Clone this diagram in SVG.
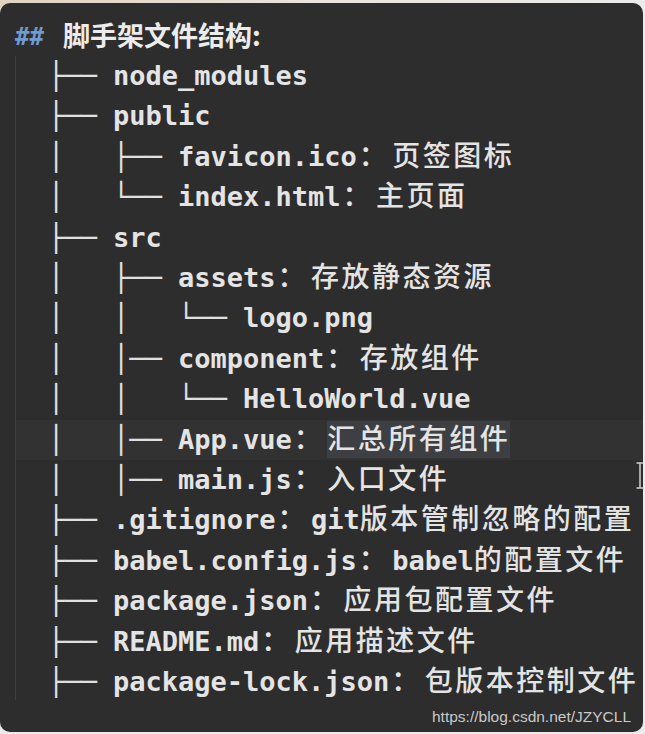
<svg xmlns="http://www.w3.org/2000/svg" width="645" height="734" viewBox="0 0 645 734">
<style>
.t{font-family:"DejaVu Sans Mono","Liberation Mono","Noto Sans CJK SC",monospace;font-size:27px;font-weight:bold;fill:#e4e4e4;}
.c{font-family:"DejaVu Sans Mono","Liberation Mono",monospace;font-size:27px;fill:#e0e0e0;}
.cjk{font-family:"Noto Sans CJK SC","DejaVu Sans",sans-serif;font-size:28px;font-weight:500;letter-spacing:2.5px;}
.title{font-family:"Noto Sans CJK SC",sans-serif;font-size:27px;font-weight:bold;fill:#ececec;}
.hash{font-family:"DejaVu Sans Mono",monospace;font-size:24px;font-weight:bold;fill:#6f9bd1;}
</style>
<defs>
<linearGradient id="top" x1="0" y1="0" x2="1" y2="0">
<stop offset="0" stop-color="#e2d3c0"/>
<stop offset="0.5" stop-color="#e9e4dd"/>
<stop offset="1" stop-color="#ebebeb"/>
</linearGradient>
</defs>
<rect x="0" y="0" width="645" height="734" fill="#ebebeb"/>
<rect x="0" y="0" width="645" height="8" fill="url(#top)"/>
<rect x="0" y="3" width="643" height="729" rx="10" fill="#2d2d2d"/>
<!-- current line highlight -->
<rect x="15" y="420" width="628" height="40" fill="#323232"/>
<rect x="327" y="421" width="183" height="37" fill="#3d3f42"/>
<!-- indent guide -->
<line x1="15.5" y1="56" x2="15.5" y2="700" stroke="#3f3f3f" stroke-width="1"/>

<g id="title">
<text x="15" y="45" class="hash">##</text>
<text x="63" y="46" class="title">脚手架文件结构:</text>
</g>

<g id="connectors" class="c">
<text x="48" y="85">├──</text>
<text x="48" y="125.4">├──</text>
<text x="48" y="165.8">│</text>
<text x="113" y="165.8">├──</text>
<text x="48" y="206.2">│</text>
<text x="113" y="206.2">└──</text>
<text x="48" y="246.6">├──</text>
<text x="48" y="287">│</text>
<text x="113" y="287">├──</text>
<text x="48" y="327.4">│</text>
<text x="113" y="327.4">│</text>
<text x="178" y="327.4">└──</text>
<text x="48" y="367.8">│</text>
<text x="113" y="367.8">│──</text>
<text x="48" y="408.2">│</text>
<text x="113" y="408.2">│</text>
<text x="178" y="408.2">└──</text>
<text x="48" y="448.6">│</text>
<text x="113" y="448.6">│──</text>
<text x="48" y="489">│</text>
<text x="113" y="489">│──</text>
<text x="48" y="529.4">├──</text>
<text x="48" y="569.8">├──</text>
<text x="48" y="610.2">├──</text>
<text x="48" y="650.6">├──</text>
<text x="48" y="691">├──</text>
</g>

<g id="node_modules"><text x="113" y="85" class="t">node_modules</text></g>
<g id="public"><text x="113" y="125.4" class="t">public</text></g>
<g id="favicon"><text x="178" y="165.8" class="t">favicon.ico<tspan class="cjk" dx="2">：</tspan><tspan class="cjk" dx="3">页签图标</tspan></text></g>
<g id="index"><text x="178" y="206.2" class="t">index.html<tspan class="cjk" dx="2">：</tspan><tspan class="cjk" dx="3">主页面</tspan></text></g>
<g id="src"><text x="113" y="246.6" class="t">src</text></g>
<g id="assets"><text x="178" y="287" class="t">assets<tspan class="cjk" dx="2">：</tspan><tspan class="cjk" dx="3">存放静态资源</tspan></text></g>
<g id="logo"><text x="243" y="327.4" class="t">logo.png</text></g>
<g id="component"><text x="178" y="367.8" class="t">component<tspan class="cjk" dx="2">：</tspan><tspan class="cjk" dx="3">存放组件</tspan></text></g>
<g id="helloworld"><text x="243" y="408.2" class="t">HelloWorld.vue</text></g>
<g id="app"><text x="178" y="448.6" class="t">App.vue<tspan class="cjk" dx="2">：</tspan><tspan class="cjk" dx="3">汇总所有组件</tspan></text></g>
<g id="main"><text x="178" y="489" class="t">main.js<tspan class="cjk" dx="2">：</tspan><tspan class="cjk" dx="3">入口文件</tspan></text></g>
<g id="gitignore"><text x="113" y="529.4" class="t">.gitignore<tspan class="cjk" dx="2">：</tspan><tspan dx="3">git</tspan><tspan class="cjk">版本管制忽略的配置</tspan></text></g>
<g id="babel"><text x="113" y="569.8" class="t">babel.config.js<tspan class="cjk" dx="2">：</tspan><tspan dx="3">babel</tspan><tspan class="cjk">的配置文件</tspan></text></g>
<g id="package"><text x="113" y="610.2" class="t">package.json<tspan class="cjk" dx="2">：</tspan><tspan class="cjk" dx="3">应用包配置文件</tspan></text></g>
<g id="readme"><text x="113" y="650.6" class="t">README.md<tspan class="cjk" dx="2">：</tspan><tspan class="cjk" dx="3">应用描述文件</tspan></text></g>
<g id="packagelock"><text x="113" y="691" class="t">package-lock.json<tspan class="cjk" dx="2">：</tspan><tspan class="cjk" dx="3">包版本控制文件</tspan></text></g>

<!-- mouse I-beam cursor -->
<path d="M636.5 463 h7 M640 463 v25 M636.5 488 h7" stroke="#d0d0d0" stroke-width="1.5" fill="none"/>

<text x="432" y="722" font-family="Liberation Sans, Arial, sans-serif" font-size="15.5" fill="#c9c9c9">https://blog.csdn.net/JZYCLL</text>
</svg>
